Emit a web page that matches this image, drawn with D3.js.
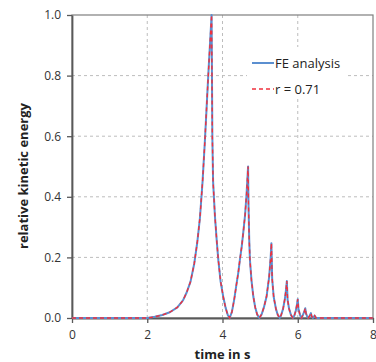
<!DOCTYPE html>
<html><head><meta charset="utf-8">
<script src="https://cdn.jsdelivr.net/npm/d3@7"></script>
<style>body{margin:0;background:#fff}svg{display:block}</style>
</head><body>
<script>
// ---- data ----
const timeFE = [0,2.0,2.2,2.4,2.6,2.8,2.95,3.05,3.15,3.25,3.33,3.40,3.47,3.53,3.58,3.63,3.67,3.71,
  3.72,3.73,3.75,3.80,3.85,3.89,3.95,4.02,4.08,4.14,4.19,
  4.25,4.31,4.37,4.42,4.46,4.51,4.55,4.60,4.64,4.68,
  4.69,4.71,4.73,4.77,4.82,4.87,4.92,4.98,
  5.04,5.10,5.17,5.24,5.28,5.30,
  5.32,5.36,5.42,5.47,5.52,
  5.56,5.61,5.66,5.69,5.71,
  5.73,5.77,5.82,5.87,
  5.91,5.95,5.98,6.00,
  6.02,6.06,6.10,
  6.13,6.17,6.20,
  6.22,6.25,6.28,
  6.31,6.35,6.37,6.40,6.43,6.45,6.47,6.50,8.0];
const energyFE = [0,0,0.004,0.01,0.019,0.035,0.058,0.085,0.12,0.18,0.25,0.33,0.45,0.58,0.70,0.82,0.91,1.0,
  0.8,0.6,0.45,0.334,0.25,0.19,0.12,0.07,0.035,0.01,0,
  0.02,0.06,0.11,0.15,0.19,0.235,0.28,0.34,0.41,0.5,
  0.38,0.26,0.19,0.125,0.07,0.035,0.012,0,
  0.012,0.035,0.07,0.136,0.2,0.247,
  0.13,0.07,0.03,0.01,0,
  0.01,0.03,0.065,0.095,0.122,
  0.06,0.03,0.01,0,
  0.008,0.025,0.045,0.062,
  0.03,0.01,0,
  0.008,0.02,0.032,
  0.015,0.005,0,
  0.006,0.016,0.006,0,0.004,0.008,0.003,0,0];
const timeR = timeFE.slice();
const energyR = energyFE.slice();
const seriesNames = ["FE analysis","r = 0.71"];
const xTicks = [0,2,4,6,8];
const yTicks = [0,0.2,0.4,0.6,0.8,1.0];
const xTitle = "time in s";
const yTitle = "relative kinetic energy";

// ---- layout ----
const W = 376, H = 362;
const m = {l:72, r:3, t:15, b:44};
const svg = d3.select("body").append("svg").attr("width",W).attr("height",H);
const x = d3.scaleLinear().domain([0,8]).range([m.l, W-m.r]);
const y = d3.scaleLinear().domain([0,1]).range([H-m.b, m.t]);
const font = "'Open Sans', sans-serif";

// grid
svg.append("g").selectAll("line").data(xTicks.filter(d=>d>0&&d<8)).join("line")
  .attr("x1",d=>x(d)).attr("x2",d=>x(d)).attr("y1",y(0)).attr("y2",y(1))
  .attr("stroke","#bdbdbd").attr("stroke-dasharray","3,3");
svg.append("g").selectAll("line").data(yTicks.filter(d=>d>0&&d<1)).join("line")
  .attr("x1",x(0)).attr("x2",x(8)).attr("y1",d=>y(d)).attr("y2",d=>y(d))
  .attr("stroke","#bdbdbd").attr("stroke-dasharray","3,3");

// frame (top/right)
svg.append("rect").attr("x",x(0)).attr("y",y(1)).attr("width",x(8)-x(0)).attr("height",y(0)-y(1))
  .attr("fill","none").attr("stroke","#7f7f7f").attr("stroke-width",1.2);

// legend background
svg.append("rect").attr("x",247).attr("y",47).attr("width",100).attr("height",52).attr("fill","#fff");

// axes
const xAxis = d3.axisBottom(x).tickValues(xTicks).tickFormat(d3.format("d")).tickSize(5).tickSizeOuter(0);
const yAxis = d3.axisLeft(y).tickValues(yTicks).tickFormat(d3.format(".1f")).tickSize(5).tickSizeOuter(0);
const gx = svg.append("g").attr("transform",`translate(0,${y(0)})`).call(xAxis);
const gy = svg.append("g").attr("transform",`translate(${x(0)},0)`).call(yAxis);
[gx,gy].forEach(g=>{
  g.select(".domain").attr("stroke","#595959").attr("stroke-width",1.8);
  g.selectAll(".tick line").attr("stroke","#595959").attr("stroke-width",1.3);
  g.selectAll(".tick text").attr("fill","#333").attr("font-family",font).attr("font-size",12);
});
gx.selectAll(".tick text").attr("dy","1.05em");
gy.selectAll(".tick text").attr("dx","-0.25em");

// lines
const line = d3.line().x(d=>x(d[0])).y(d=>y(d[1]));
svg.append("path").datum(d3.zip(timeFE,energyFE)).attr("d",line)
  .attr("fill","none").attr("stroke","#5b8fd0").attr("stroke-width",2).attr("stroke-linejoin","round");
svg.append("path").datum(d3.zip(timeR,energyR)).attr("d",line)
  .attr("fill","none").attr("stroke","#f0303c").attr("stroke-width",1.4).attr("stroke-dasharray","4,3");

// legend
const lg = svg.append("g").attr("font-family",font).attr("font-size",13).attr("fill","#222");
lg.append("line").attr("x1",252).attr("x2",274).attr("y1",63).attr("y2",63).attr("stroke","#5b8fd0").attr("stroke-width",2);
lg.append("text").attr("x",275).attr("y",67.5).text(seriesNames[0]);
lg.append("line").attr("x1",252).attr("x2",274).attr("y1",89).attr("y2",89).attr("stroke","#f0303c").attr("stroke-width",1.4).attr("stroke-dasharray","4,3");
lg.append("text").attr("x",275).attr("y",93.5).text(seriesNames[1]);

// titles
svg.append("text").attr("x",x(4)).attr("y",359).attr("text-anchor","middle")
  .attr("font-family",font).attr("font-size",13).attr("font-weight","bold").attr("fill","#222").text(xTitle);
svg.append("text").attr("transform",`translate(28,176) rotate(-90)`).attr("text-anchor","middle")
  .attr("font-family",font).attr("font-size",13).attr("font-weight","bold").attr("fill","#222").text(yTitle);
</script>
</body></html>
